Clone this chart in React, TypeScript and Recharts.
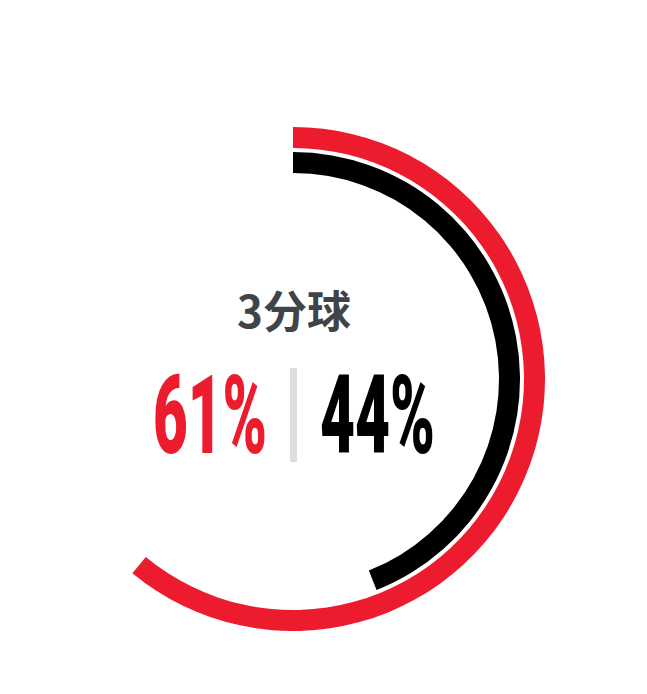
import React from 'react';
import { PieChart, Pie, Cell, Label } from 'recharts';

const title = '3分球';
const percents = [61, 44];
const colors = ['#ec1c2e', '#000000'];

const CX = 293;
const CY = 379;

const ring = (v: number) => [
  { name: 'made', value: v },
  { name: 'rest', value: 100 - v },
];

const CenterText = () => (
  <g>
    <text
      x={CX + 1}
      y={CY - 70}
      textAnchor="middle"
      dominantBaseline="central"
      fontFamily="'Noto Sans CJK SC', 'Noto Sans', sans-serif"
      fontWeight={700}
      fontSize={44}
      fill="#404448"
    >
      {title}
    </text>
    <text
      x={153}
      y={CY + 74}
      textLength={114}
      lengthAdjust="spacingAndGlyphs"
      fontFamily="Roboto, 'DejaVu Sans', sans-serif"
      fontWeight={900}
      fontSize={110}
      fill={colors[0]}
    >
      {percents[0]}%
    </text>
    <rect x={290} y={368} width={7} height={94} fill="#dcdde0" />
    <text
      x={320}
      y={CY + 74}
      textLength={115}
      lengthAdjust="spacingAndGlyphs"
      fontFamily="Roboto, 'DejaVu Sans', sans-serif"
      fontWeight={900}
      fontSize={110}
      fill={colors[1]}
    >
      {percents[1]}%
    </text>
  </g>
);

export default function App() {
  return (
    <div style={{ position: 'fixed', left: 0, top: 0, width: 647, height: 694, background: '#fff' }}>
      <PieChart width={647} height={694} margin={{ top: 0, right: 0, bottom: 0, left: 0 }}>
        <Pie
          data={ring(percents[0])}
          dataKey="value"
          cx={CX}
          cy={CY}
          innerRadius={231}
          outerRadius={252}
          startAngle={90}
          endAngle={-270}
          stroke="none"
          isAnimationActive={false}
        >
          <Cell fill={colors[0]} />
          <Cell fill="none" />
          <Label content={() => <CenterText />} />
        </Pie>
        <Pie
          data={ring(percents[1])}
          dataKey="value"
          cx={CX}
          cy={CY}
          innerRadius={206}
          outerRadius={227}
          startAngle={90}
          endAngle={-270}
          stroke="none"
          isAnimationActive={false}
        >
          <Cell fill={colors[1]} />
          <Cell fill="none" />
        </Pie>
      </PieChart>
    </div>
  );
}
